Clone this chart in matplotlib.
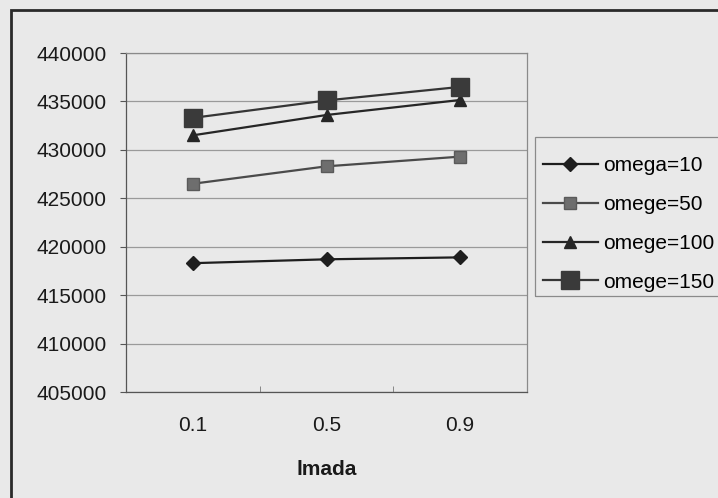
import matplotlib
matplotlib.use("Agg")
import matplotlib.pyplot as plt
from matplotlib.patches import Rectangle

categories = ["0.1", "0.5", "0.9"]
series_names = ["omega=10", "omege=50", "omege=100", "omege=150"]
omega10 = [418300, 418700, 418900]
omega50 = [426500, 428300, 429300]
omega100 = [431500, 433600, 435150]
omega150 = [433300, 435100, 436500]
yticks = [405000, 410000, 415000, 420000, 425000, 430000, 435000, 440000]
xlabel = "lmada"

bg = "#e9e9e9"
fs = 15
plt.rcParams["font.family"] = ["Liberation Sans", "DejaVu Sans"]

fig = plt.figure(figsize=(7.18, 4.98), dpi=100, facecolor=bg)
ax = fig.add_axes([126 / 718, 1 - 392 / 498, 401 / 718, 339 / 498], facecolor=bg)

x = list(range(len(categories)))
styles = [
    dict(marker="D", markersize=7, color="#1e1e1e", mfc="#1e1e1e", mec="#1e1e1e"),
    dict(marker="s", markersize=8.5, color="#4a4a4a", mfc="#6e6e6e", mec="#5a5a5a"),
    dict(marker="^", markersize=9, color="#262626", mfc="#262626", mec="#262626"),
    dict(marker="s", markersize=13, color="#353535", mfc="#3a3a3a", mec="#3a3a3a"),
]
data = [omega10, omega50, omega100, omega150]
for name, vals, st in zip(series_names, data, styles):
    ax.plot(x, vals, lw=1.6, label=name, **st)

ax.set_xlim(-0.5, len(categories) - 0.5)
ax.set_ylim(yticks[0], yticks[-1])
ax.set_yticks(yticks)
ax.set_yticklabels([str(v) for v in yticks])
ax.set_xticks(x)
ax.set_xticklabels(categories)
ax.set_xticks([0.5, 1.5], minor=True)
ax.tick_params(axis="x", which="major", length=0, pad=17, labelsize=fs, colors="#1a1a1a")
ax.tick_params(axis="x", which="minor", length=4, direction="in", color="#777777")
ax.tick_params(axis="y", length=4, direction="out", pad=10, labelsize=fs,
               colors="#1a1a1a", color="#555555")
ax.grid(axis="y", color="#9a9a9a", lw=0.9)
ax.set_axisbelow(True)
for s in ax.spines.values():
    s.set_color("#8a8a8a")
    s.set_linewidth(0.9)
ax.spines["left"].set_color("#555555")
ax.spines["bottom"].set_color("#555555")

ax.set_xlabel(xlabel, fontsize=fs, fontweight="bold", labelpad=18, color="#1a1a1a")

leg = fig.legend(loc="upper left", bbox_to_anchor=(535 / 718, 1 - 148 / 498),
                 bbox_transform=fig.transFigure, frameon=False,
                 fontsize=fs, handlelength=2.6, handletextpad=0.25,
                 labelspacing=0.95, borderpad=0.4, borderaxespad=0)

fig.patches.append(Rectangle((535, 498 - 296), 200, 159, transform=None,
                             fill=False, edgecolor="#8a8a8a", lw=0.9))
fig.patches.append(Rectangle((11, -20), 760, 498 - 10 + 20, transform=None,
                             fill=False, edgecolor="#2a2a2a", lw=2))

fig.savefig("out.png", dpi=100, facecolor=bg)
